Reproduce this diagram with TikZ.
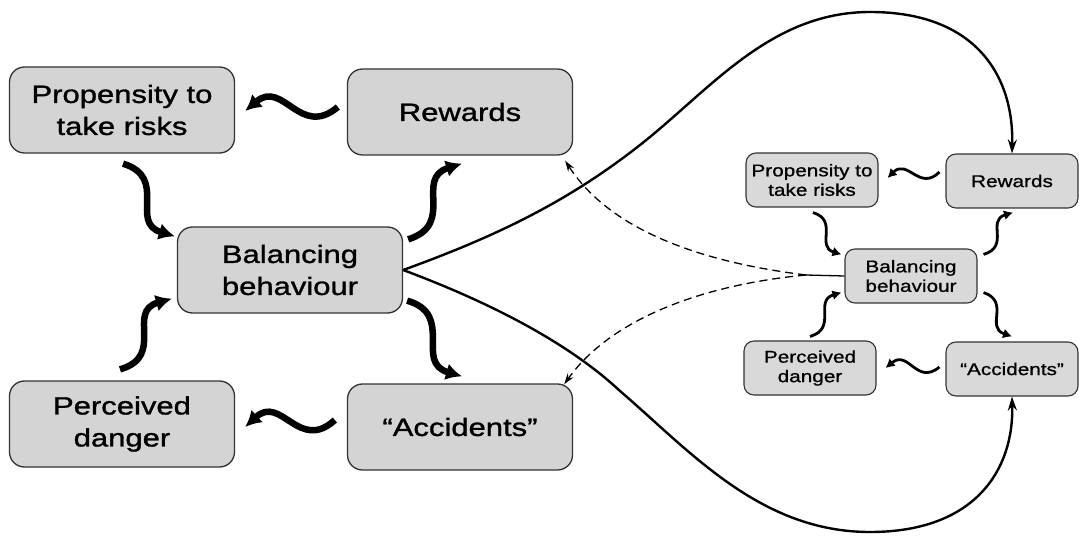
\documentclass[tikz,border=0pt]{standalone}
\usepackage{fontspec}
\setmainfont{Liberation Sans}
\newfontfamily\widefont[FakeStretch=1.24,FakeBold=1.2]{Liberation Sans}
\newfontfamily\widesmallfont[FakeStretch=1.22,FakeBold=0.9]{Liberation Sans}
\usetikzlibrary{arrows.meta,calc}
\begin{document}
\begin{tikzpicture}[x=1pt,y=-1pt,
  bigbox/.style={draw=black!80, line width=1.3pt, fill=black!17, rounded corners=15pt,
    minimum width=225pt, minimum height=86pt, align=center, inner sep=0pt,
    font=\widefont\fontsize{25}{32}\selectfont},
  smallbox/.style={draw=black!80, line width=1.1pt, fill=black!15, rounded corners=10pt,
    minimum width=132pt, minimum height=54pt, align=center, inner sep=0pt,
    font=\widesmallfont\fontsize{17}{19.5}\selectfont},
  wavebig/.style={line width=6.5pt, -{Latex[length=16pt,width=17pt]}},
  wavesmall/.style={line width=2.8pt, -{Latex[length=9pt,width=10pt]}},
  loopline/.style={line width=2.4pt, -{Stealth[length=14pt,width=9pt]}},
  dashlink/.style={line width=1.3pt, dash pattern=on 8pt off 5pt, -{Stealth[length=11pt,width=7pt]}},
]
\useasboundingbox[fill=white] (0,0) rectangle (1079,537);

% big nodes
\node[bigbox] (prop) at (122,110) {Propensity to\\take risks};
\node[bigbox] (rew)  at (460,112) {Rewards};
\node[bigbox] (bal)  at (290,270) {Balancing\\behaviour};
\node[bigbox] (perc) at (122,424) {Perceived\\danger};
\node[bigbox] (acc)  at (460,427) {“Accidents”};

% small nodes
\node[smallbox] (sprop) at (812,180)  {Propensity to\\take risks};
\node[smallbox] (srew)  at (1012,181) {Rewards};
\node[smallbox] (sbal)  at (911,276)  {Balancing\\behaviour};
\node[smallbox] (sperc) at (810,368)  {Perceived\\danger};
\node[smallbox] (sacc)  at (1012,369) {“Accidents”};

% big wavy arrows
\draw[wavebig] ([shift={(-9,-5)}]rew.west) .. controls +(-38,32) and +(38,-32) .. ([shift={(10,1)}]prop.east);
\draw[wavebig] ([shift={(1,10)}]prop.south) .. controls +(46,14) and +(-46,-14) .. ([shift={(-2,10)}]bal.north west);
\draw[wavebig] ([shift={(5,13)}]bal.north east) .. controls +(48,-15) and +(-48,15) .. ([shift={(2,8)}]rew.south);
\draw[wavebig] ([shift={(4,-13)}]bal.south east) .. controls +(48,14) and +(-48,-14) .. ([shift={(2,-7)}]acc.north);
\draw[wavebig] ([shift={(-2,-11)}]perc.north) .. controls +(46,-13) and +(-46,13) .. ([shift={(-5,-15)}]bal.south west);
\draw[wavebig] ([shift={(-12,-7)}]acc.west) .. controls +(-36,33) and +(36,-33) .. ([shift={(10,3)}]perc.east);

% small wavy arrows
\draw[wavesmall] ([shift={(-6,-9)}]srew.west) .. controls +(-20,20) and +(20,-20) .. ([shift={(9,-2)}]sprop.east);
\draw[wavesmall] ([shift={(1,5)}]sprop.south) .. controls +(26,8) and +(-26,-8) .. ([shift={(-3,6)}]sbal.north west);
\draw[wavesmall] ([shift={(6,6)}]sbal.north east) .. controls +(27,-8) and +(-27,8) .. ([shift={(1,4)}]srew.south);
\draw[wavesmall] ([shift={(6,-11)}]sbal.south east) .. controls +(27,9) and +(-27,-9) .. ([shift={(0,-5)}]sacc.north);
\draw[wavesmall] ([shift={(0,-4)}]sperc.north) .. controls +(28,-8) and +(-28,8) .. ([shift={(-3,-11)}]sbal.south west);
\draw[wavesmall] ([shift={(-6,-2)}]sacc.west) .. controls +(-23,19) and +(23,-19) .. ([shift={(9,0)}]sperc.east);

% big loops
\draw[loopline] (bal.east) .. controls (500,235) and (570,200) .. (640,145)
   .. controls (710,90) and (770,12) .. (870,12)
   .. controls (975,12) and (1014,75) .. (srew.north);
\draw[loopline] (bal.east) .. controls (470,295) and (560,335) .. (620,391)
   .. controls (690,451) and (760,532) .. (870,532)
   .. controls (975,532) and (1014,470) .. (sacc.south);

% dashed links
\coordinate (m) at (806,275);
\draw[line width=1.3pt] (sbal.west) -- (m);
\draw[dashlink] (m) .. controls (700,262) and (610,230) .. ([shift={(-8,5)}]rew.south east);
\draw[dashlink] (m) .. controls (700,285) and (610,320) .. ([shift={(-9,1)}]acc.north east);
\end{tikzpicture}
\end{document}
